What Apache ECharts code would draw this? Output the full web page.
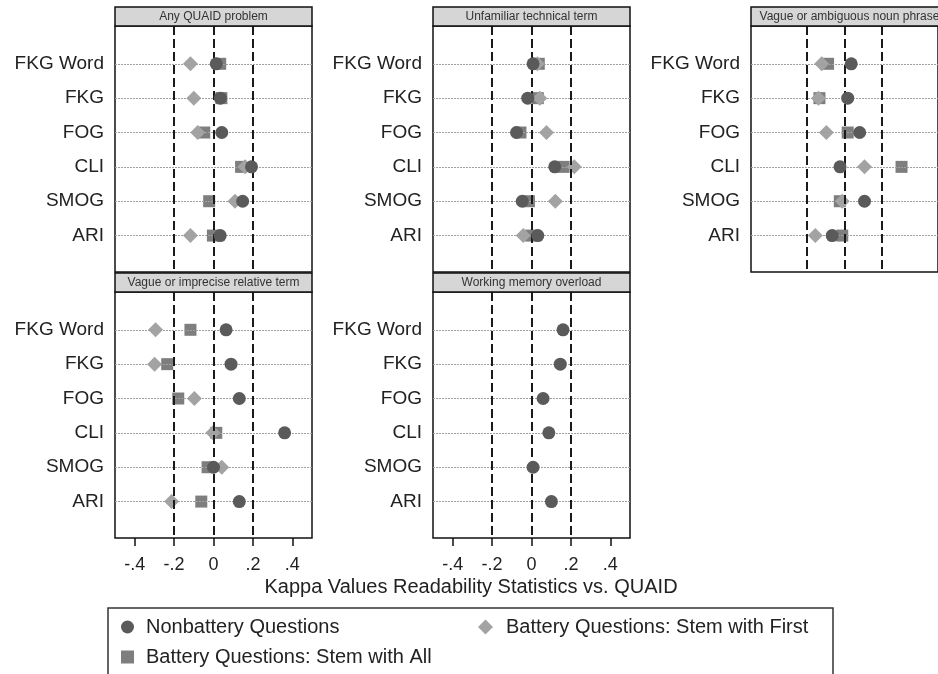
<!DOCTYPE html>
<html><head><meta charset="utf-8">
<script src="https://cdn.jsdelivr.net/npm/echarts@6/dist/echarts.min.js"></script>
<style>html,body{margin:0;padding:0;background:#fff}#c{width:938px;height:674px}</style>
</head><body><div id="c"></div>
<script>
// ---- data ----
const rowLabels = ['FKG Word', 'FKG', 'FOG', 'CLI', 'SMOG', 'ARI'];
const panelTitles = ['Any QUAID problem', 'Unfamiliar technical term', 'Vague or ambiguous noun phrase',
  'Vague or imprecise relative term', 'Working memory overload'];
const xTickValues = [-0.4, -0.2, 0, 0.2, 0.4];
const refLines = [-0.2, 0, 0.2];
const seriesNames = ['Nonbattery Questions', 'Battery Questions: Stem with First', 'Battery Questions: Stem with All'];
const axisTitle = 'Kappa Values Readability Statistics vs. QUAID';

const anyNon   = [0.014, 0.035, 0.042, 0.193, 0.148, 0.034];
const anyFirst = [-0.117, -0.100, -0.080, 0.160, 0.109, -0.117];
const anyAll   = [0.034, 0.040, -0.047, 0.140, -0.022, -0.003];

const techNon   = [0.008, -0.019, -0.076, 0.118, -0.047, 0.032];
const techFirst = [0.030, 0.042, 0.076, 0.217, 0.121, -0.042];
const techAll   = [0.037, 0.032, -0.056, 0.163, -0.013, -0.002];

const nounNon   = [0.036, 0.017, 0.081, -0.024, 0.107, -0.066];
const nounFirst = [-0.122, -0.139, -0.097, 0.107, -0.012, -0.156];
const nounAll   = [-0.088, -0.134, 0.017, 0.305, -0.025, -0.012];

const relNon   = [0.064, 0.089, 0.131, 0.361, 0.000, 0.131];
const relFirst = [-0.294, -0.299, -0.097, -0.003, 0.042, -0.213];
const relAll   = [-0.117, -0.235, -0.179, 0.014, -0.030, -0.062];

const memNon = [0.160, 0.146, 0.059, 0.088, 0.008, 0.101];

// ---- layout / styling ----
const panelData = [
  { non: anyNon, first: anyFirst, all: anyAll },
  { non: techNon, first: techFirst, all: techAll },
  { non: nounNon, first: nounFirst, all: nounAll },
  { non: relNon, first: relFirst, all: relAll },
  { non: memNon }
];
const layout = [
  { left: 115, top: 26, bottom: false },
  { left: 433, top: 26, bottom: false },
  { left: 751, top: 26, bottom: false },
  { left: 115, top: 292, bottom: true },
  { left: 433, top: 292, bottom: true }
];
const W = 197, H = 246, TB = 19;
const FONT = '"Liberation Sans", Arial, sans-serif';
const colNon = '#5a5a5a', colFirst = '#a3a3a3', colAll = '#7e7e7e';

const grids = [], xAxes = [], yAxes = [], series = [], graphics = [];
const rowIdx = rowLabels.map((_, i) => i + 1);

layout.forEach((L, i) => {
  grids.push({ left: L.left, top: L.top, width: W, height: H, show: true,
    borderColor: '#111', borderWidth: 1.5, backgroundColor: '#fff' });
  xAxes.push({ type: 'value', gridIndex: i, min: -0.5, max: 0.5, position: 'bottom',
    axisLine: { show: false, onZero: false }, splitLine: { show: false },
    axisTick: { show: L.bottom, length: 8, customValues: xTickValues, lineStyle: { color: '#111', width: 1.5 } },
    axisLabel: { show: L.bottom, customValues: xTickValues, fontSize: 18, fontFamily: FONT, color: '#222', margin: 18,
      formatter: v => v === 0 ? '0' : (v < 0 ? '-' : '') + Math.abs(v).toFixed(1).replace(/^0/, '') } });
  yAxes.push({ type: 'value', gridIndex: i, inverse: true, min: -0.1, max: 7.06, position: 'left',
    axisLine: { show: false, onZero: false }, axisTick: { show: false }, splitLine: { show: false },
    axisLabel: { customValues: rowIdx, fontSize: 19, fontFamily: FONT, color: '#222', margin: 11,
      formatter: v => rowLabels[Math.round(v) - 1] || '' } });

  // reference lines
  series.push({ type: 'scatter', xAxisIndex: i, yAxisIndex: i, data: [], z: 1, silent: true,
    markLine: { silent: true, symbol: ['none', 'none'], label: { show: false }, animation: false,
      data: rowIdx.map(r => ({ yAxis: r, lineStyle: { color: '#a0a0a0', type: [2, 1], width: 1 } }))
        .concat(refLines.map(v => ({ xAxis: v, lineStyle: { color: '#1a1a1a', type: [9, 4], width: 2 } }))) } });

  const d = panelData[i];
  if (d.all) series.push({ name: seriesNames[2], type: 'scatter', xAxisIndex: i, yAxisIndex: i, z: 3,
    symbol: 'rect', symbolSize: 12, itemStyle: { color: colAll, opacity: 1 },
    data: d.all.map((v, k) => [v, rowIdx[k]]) });
  if (d.first) series.push({ name: seriesNames[1], type: 'scatter', xAxisIndex: i, yAxisIndex: i, z: 4,
    symbol: 'diamond', symbolSize: 15, itemStyle: { color: colFirst, opacity: 1 },
    data: d.first.map((v, k) => [v, rowIdx[k]]) });
  series.push({ name: seriesNames[0], type: 'scatter', xAxisIndex: i, yAxisIndex: i, z: 5,
    symbol: 'circle', symbolSize: 13, itemStyle: { color: colNon, opacity: 1 },
    data: d.non.map((v, k) => [v, rowIdx[k]]) });

  // title strip
  graphics.push({ type: 'rect', shape: { x: L.left, y: L.top - TB, width: W, height: TB }, z: 10,
    style: { fill: '#d6d6d6', stroke: '#111', lineWidth: 1.5 } });
  graphics.push({ type: 'text', x: L.left + W / 2, y: L.top - TB / 2, z: 11,
    style: { text: panelTitles[i], fill: '#333', font: '12px ' + FONT, textAlign: 'center', textVerticalAlign: 'middle' } });
});

graphics.push({ type: 'text', x: 471, y: 587, z: 11,
  style: { text: axisTitle, fill: '#222', font: '20px ' + FONT, textAlign: 'center', textVerticalAlign: 'middle' } });
graphics.push({ type: 'rect', shape: { x: 108, y: 608, width: 725, height: 90 }, z: 9,
  style: { fill: 'none', stroke: '#333', lineWidth: 1.5 } });

const chart = echarts.init(document.getElementById('c'), null, { renderer: 'canvas' });
chart.setOption({
  animation: false,
  backgroundColor: '#fff',
  grid: grids, xAxis: xAxes, yAxis: yAxes, series: series,
  legend: [
    { data: [{ name: seriesNames[0], icon: 'circle' }, { name: seriesNames[2], icon: 'rect' }],
      orient: 'vertical', left: 121, top: 617, padding: 0, itemGap: 10, itemWidth: 13, itemHeight: 13,
      selectedMode: false,
      textStyle: { fontSize: 20, fontFamily: FONT, color: '#222', lineHeight: 20, padding: [0, 0, 0, 7] } },
    { data: [{ name: seriesNames[1], icon: 'diamond' }],
      orient: 'vertical', left: 478, top: 617, padding: 0, itemWidth: 15, itemHeight: 15,
      selectedMode: false,
      textStyle: { fontSize: 20, fontFamily: FONT, color: '#222', lineHeight: 20, padding: [0, 0, 0, 8] } }
  ],
  graphic: graphics
});
</script>
</body></html>
